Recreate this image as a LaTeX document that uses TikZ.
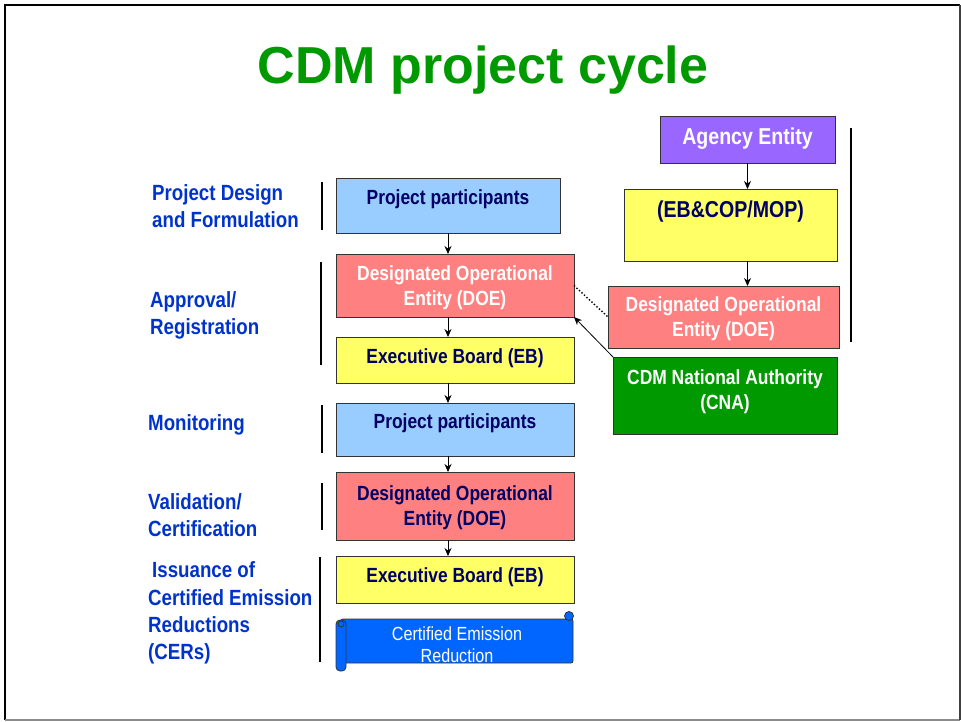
\documentclass[tikz,border=0pt]{standalone}
\usepackage{fontspec}
\setmainfont{Liberation Sans}[FakeStretch=0.85]
\newfontfamily\titlefont{Liberation Sans}
\usetikzlibrary{arrows.meta,calc}
\definecolor{titlegreen}{RGB}{0,153,0}
\definecolor{stageblue}{RGB}{0,51,204}
\definecolor{navytext}{RGB}{0,0,102}
\definecolor{ppblue}{RGB}{153,204,255}
\definecolor{doered}{RGB}{255,128,128}
\definecolor{ebyellow}{RGB}{255,255,102}
\definecolor{cerblue}{RGB}{0,102,255}
\definecolor{aepurple}{RGB}{153,102,255}
\definecolor{cnagreen}{RGB}{0,153,0}

\begin{document}
\begin{tikzpicture}[x=1pt,y=-1pt]
\tikzstyle{box}=[draw=black!80,line width=0.8pt,outer sep=0pt,inner sep=0pt]
\tikzstyle{boxtext}=[font=\fontsize{20.5}{25}\selectfont\bfseries,align=center,inner sep=0pt]
\tikzstyle{stage}=[anchor=west,align=left,text=stageblue,font=\fontsize{22}{27.2}\selectfont\bfseries,inner sep=0pt]
\tikzstyle{sepline}=[line width=1.6pt]
\tikzstyle{arr}=[line width=0.8pt,-{Stealth[length=8pt,width=7pt]}]

\useasboundingbox (0,0) rectangle (961,721);
\draw [line width=2.5pt] (960,5) -- (5,5) -- (5,720);
\draw [black!45,line width=2pt] (5,720) -- (960,720);
\draw [black!75,line width=2pt] (960,720) -- (960,5);

\node (title) [anchor=base,text=titlegreen,font=\titlefont\fontsize{52}{60}\selectfont\bfseries] at (483,83) {CDM project cycle};

% left column
\node (PP) [box,fill=ppblue,minimum width=224,minimum height=55,label={[boxtext,text=navytext,yshift=6pt]center:Project participants}] at (448,205.5) {};
\node (DOE) [box,fill=doered,minimum width=238,minimum height=63,label={[boxtext,text=white,yshift=-2pt]center:Designated Operational\\Entity (DOE)}] at (455,285.5) {};
\node (EB) [box,fill=ebyellow,minimum width=238,minimum height=46,label={[boxtext,text=navytext,yshift=2pt]center:Executive Board (EB)}] at (455,360) {};
\node (PP2) [box,fill=ppblue,minimum width=238,minimum height=53,label={[boxtext,text=navytext,yshift=6pt]center:Project participants}] at (455,429.5) {};
\node (DOE2) [box,fill=doered,minimum width=238,minimum height=68,label={[boxtext,text=navytext,yshift=-2pt]center:Designated Operational\\Entity (DOE)}] at (455,506) {};
\node (EB2) [box,fill=ebyellow,minimum width=238,minimum height=47,label={[boxtext,text=navytext,yshift=2pt]center:Executive Board (EB)}] at (455,579.5) {};

% scroll
\node (CER) [box,fill=cerblue,minimum width=232,minimum height=44,rounded corners=2pt,label={[boxtext,font=\fontsize{19}{22}\selectfont,text=white,yshift=-4pt]center:Certified Emission\\Reduction}] at (457,641) {};
\draw [box,fill=cerblue,rounded corners=4pt] (336,620) rectangle (346,671);
\draw [box,fill=cerblue] (341,624) circle (3pt);
\draw [box,fill=cerblue] (569,616) circle (4.5pt);

\draw [arr] (PP.south) -- (PP.south |- DOE.north);
\draw [arr] (DOE.south -| PP.south) -- (EB.north -| PP.south);
\draw [arr] (EB.south -| PP.south) -- (PP2.north -| PP.south);
\draw [arr] (PP2.south -| PP.south) -- (DOE2.north -| PP.south);
\draw [arr] (DOE2.south -| PP.south) -- (EB2.north -| PP.south);

% right column
\node (AE) [box,fill=aepurple,minimum width=175,minimum height=47,label={[boxtext,font=\fontsize{23}{27}\selectfont\bfseries,text=white,yshift=1pt]center:Agency Entity}] at (747.5,139.5) {};
\node (COP) [box,fill=ebyellow,minimum width=213,minimum height=72,label={[boxtext,font=\fontsize{23}{27}\selectfont\bfseries,text=navytext,yshift=13pt]center:(EB\&COP/MOP)}] at (730.5,225) {};
\node (DOE3) [box,fill=doered,minimum width=231,minimum height=62,label={[boxtext,text=white,yshift=-2pt]center:Designated Operational\\Entity (DOE)}] at (723.5,317) {};
\node (CNA) [box,fill=cnagreen,minimum width=224,minimum height=77,label={[boxtext,text=white,yshift=4pt]center:CDM National Authority\\(CNA)}] at (725,395.5) {};

\draw [arr] (AE.south) -- (AE.south |- COP.north);
\draw [arr] (COP.south -| AE.south) -- (DOE3.north -| AE.south);
\draw [dotted,line width=1.4pt] (DOE.east) -- (DOE3.west);
\draw [arr] (CNA.north west) -- (DOE.south east);

% stage labels
\node (design) [stage] at (152,206) {Project Design\\and Formulation};
\node (approval) [stage] at (150,315) {Approval/\\Registration};
\node (monitor) [stage] at (148,425) {Monitoring};
\node (valid) [stage] at (148,515) {Validation/\\Certification};
\node (issue) [stage] at (148,613) {\hspace{4pt}Issuance of\\Certified Emission\\Reductions\\(CERs)};

\draw [sepline] (322,182) -- (322,230);
\draw [sepline] (321,262) -- (321,365);
\draw [sepline] (322,405) -- (322,453);
\draw [sepline] (322,483) -- (322,530);
\draw [sepline] (320,557) -- (320,662);
\draw [sepline] (851,128) -- (851,342);

\end{tikzpicture}
\end{document}
